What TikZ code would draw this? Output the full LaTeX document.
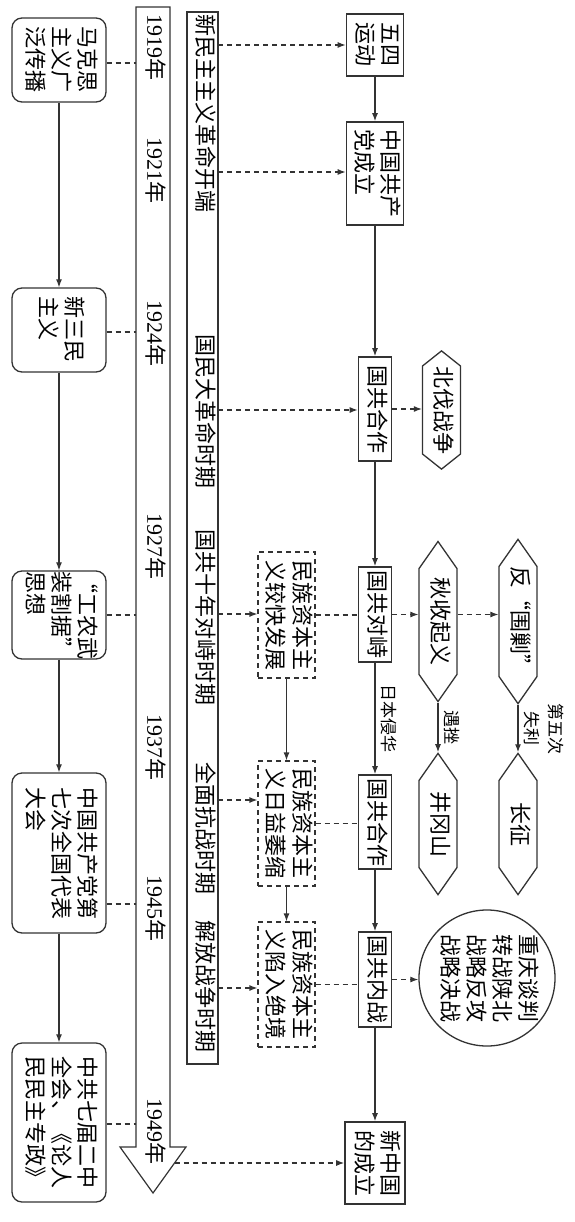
\documentclass[tikz,border=0pt]{standalone}
\usepackage{fontspec}
\setmainfont{Liberation Serif}
\newfontfamily\cjk{Noto Sans CJK SC}
\usepackage{graphicx}
\usetikzlibrary{shapes.symbols,arrows.meta,positioning}

% text turned a quarter clockwise, lines become columns
\newcommand{\vtext}[2][l]{\rotatebox{-90}{\begin{tabular}{@{}#1@{}}#2\end{tabular}}}

\tikzset{
  bigtext/.style={font=\cjk\fontsize{22}{25}\selectfont},
  smalltext/.style={font=\cjk\fontsize{17}{24}\selectfont, inner sep=0pt},
  dashline/.style={dash pattern=on 5pt off 4pt},
  sidebox/.style={draw=black!80, line width=1.3pt, rounded corners=10pt, minimum width=94pt, inner sep=0pt, bigtext},
  chainbox/.style={draw=black!80, line width=1.6pt, minimum width=33pt, inner sep=0pt, bigtext},
  mzbox/.style={draw=black!80, line width=1.2pt, dashline, minimum width=57pt, minimum height=125pt, inner sep=0pt, bigtext},
  hexbox/.style={draw=black!80, line width=1.3pt, shape=signal, signal to=north and south, signal pointer angle=70, minimum width=38pt, minimum height=143pt, inner sep=0pt, bigtext},
  yearlbl/.style={font=\fontsize{22}{25}\selectfont, inner sep=0pt},
  periodlbl/.style={bigtext, inner sep=0pt},
  solidarrow/.style={draw=black!80, line width=1.2pt, -{Latex[length=8pt,width=6pt]}},
  dasharrow/.style={solidarrow, dashline},
  plainline/.style={draw=black!80, line width=1.2pt, dashline},
}

\begin{document}
\begin{tikzpicture}[x=1pt, y=-1pt]
\useasboundingbox (0,0) rectangle (574,1222);

% time axis
\draw[draw=black!80, line width=1.2pt] (136,7) -- (136,1147) -- (120,1147) -- (153,1193) -- (186,1147) -- (170,1147) -- (170,7) -- cycle;
\node[yearlbl] (y1919) at (153,48) {\vtext{1919{\cjk 年}}};
\node[yearlbl] (y1921) at (153,171) {\vtext{1921{\cjk 年}}};
\node[yearlbl] (y1924) at (153,334) {\vtext{1924{\cjk 年}}};
\node[yearlbl] (y1927) at (153,546) {\vtext{1927{\cjk 年}}};
\node[yearlbl] (y1937) at (153,747) {\vtext{1937{\cjk 年}}};
\node[yearlbl] (y1945) at (153,908) {\vtext{1945{\cjk 年}}};
\node[yearlbl] (y1949) at (153,1131) {\vtext{1949{\cjk 年}}};

% periods
\draw[draw=black!80, line width=1.2pt] (187,12) rectangle (218,1064);
\node[periodlbl] (xmz) at (203,114) {\vtext{新民主主义革命开端}};
\node[periodlbl] (gmdgm) at (203,411) {\vtext{国民大革命时期}};
\node[periodlbl] (snds) at (203,617) {\vtext{国共十年对峙时期}};
\node[periodlbl] (qmkz) at (203,828) {\vtext{全面抗战时期}};
\node[periodlbl] (jfzz) at (203,986) {\vtext{解放战争时期}};

% thought
\node[sidebox, minimum height=84pt] (mks) at (59,60) {\vtext{马克思\\主义广\\泛传播}};
\node[sidebox, minimum height=84pt] (xsm) at (59,330) {\vtext{新三民\\主义}};
\node[sidebox, minimum height=84pt] (gnwz) at (59,615) {\vtext{“工农武\\装割据”\\思想}};
\node[sidebox, minimum height=160pt] (qd) at (59,853) {\vtext{中国共产党第\\七次全国代表\\大会}};
\node[sidebox, minimum height=159pt] (ejqh) at (59,1122.5) {\vtext{中共七届二中\\全会、《论人\\民民主专政》}};

% main line
\node[chainbox, minimum width=57pt, minimum height=62pt] (wusi) at (375,45) {\vtext{五四\\运动}};
\node[chainbox, minimum width=57pt, minimum height=103pt] (zgd) at (375,173.5) {\vtext{中国共产\\党成立}};
\node[chainbox, minimum height=104pt] (gh1) at (375,409) {\vtext{国共合作}};
\node[chainbox, minimum height=95pt] (dz) at (375,614.5) {\vtext{国共对峙}};
\node[chainbox, minimum height=94pt] (gh2) at (375,822) {\vtext{国共合作}};
\node[chainbox, minimum height=95pt] (nz) at (375,979.5) {\vtext{国共内战}};
\node[chainbox, minimum width=60pt, minimum height=82pt] (xzg) at (375,1163) {\vtext{新中国\\的成立}};

% events
\node[hexbox, minimum height=106pt, signal pointer angle=103] (bf) at (441.5,410) {\vtext{北伐战争}};
\node[hexbox] (qs) at (438,621.5) {\vtext{秋收起义}};
\node[hexbox] (wj) at (518,621.5) {\vtext{反“围剿”}};
\node[hexbox, minimum height=124pt] (jgs) at (438,824) {\vtext{井冈山}};
\node[hexbox, minimum height=124pt] (cz) at (518,824) {\vtext{长征}};
\node[draw=black!80, line width=1.3pt, circle, minimum size=135pt, inner sep=0pt, bigtext] (zqtp) at (487,978) {\vtext{重庆谈判\\转战陕北\\战略反攻\\战略决战}};

% economy
\node[mzbox, minimum height=126pt] (mz1) at (286.5,615) {\vtext{民族资本主\\义较快发展}};
\node[mzbox] (mz2) at (286.5,823.5) {\vtext{民族资本主\\义日益萎缩}};
\node[mzbox] (mz3) at (286.5,984.5) {\vtext{民族资本主\\义陷入绝境}};

% connectors
\foreach \a/\b in {mks/xsm, xsm/gnwz, gnwz/qd, qd/ejqh, wusi/zgd, zgd/gh1, gh1/dz, gh2/nz, nz/xzg, mz1/mz2, mz2/mz3}
  \draw[solidarrow] (\a.south) -- (\b.north);
\draw[solidarrow] (dz.south) -- node[right, smalltext] (rbqh) {\vtext{日本侵华}} (gh2.north);
\draw[solidarrow] (qs.south) -- node[right, smalltext] (yc) {\vtext{遇挫}} (jgs.north);
\draw[solidarrow] (wj.south) -- node[right, smalltext] (dwc) {\vtext[c]{第五次\\失利}} (cz.north);

\foreach \b/\y in {mks/63, xsm/332, gnwz/615, qd/904, ejqh/1124} {
  \coordinate (tk-\b) at (136,\y);
  \draw[plainline] (\b.east |- tk-\b) -- (tk-\b);
}
\foreach \b/\y in {wusi/45, zgd/172, gh1/410, mz1/614, mz2/800, mz3/988} {
  \coordinate (pd-\b) at (218,\y);
  \draw[dasharrow] (pd-\b) -- (pd-\b -| \b.west);
}
\coordinate (tlend) at (174.5,1163);
\draw[dasharrow] (tlend) -- (tlend -| xzg.west);

\draw[dasharrow] (gh1.east) -- (gh1.east -| bf.west);
\draw[dasharrow] (dz.east) -- (dz.east -| qs.west);
\draw[dasharrow] (dz.east -| qs.east) -- (dz.east -| wj.west);
\draw[dasharrow] (nz.east) -- (nz.east -| zqtp.west);

\draw[plainline] (mz1.east) -- (mz1.east -| dz.west);
\draw[plainline] (mz2.east) -- (mz2.east -| gh2.west);
\draw[plainline] (mz3.east) -- (mz3.east -| nz.west);
\end{tikzpicture}
\end{document}
